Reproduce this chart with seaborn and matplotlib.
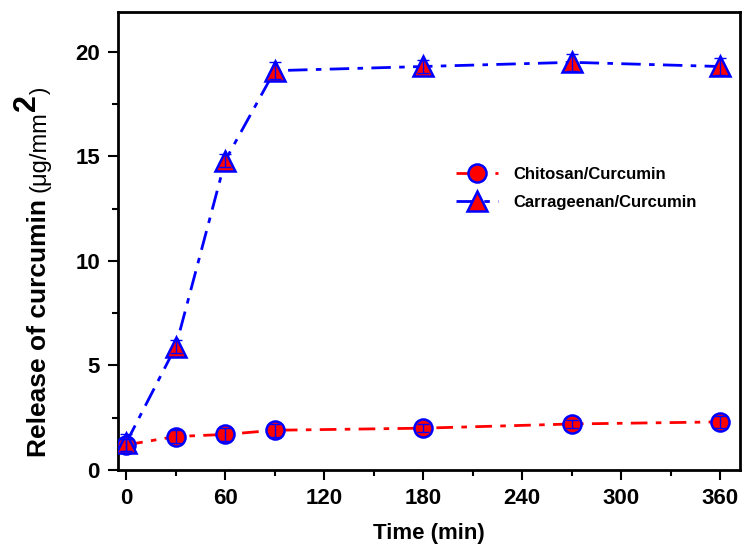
import matplotlib
matplotlib.use("Agg")
import matplotlib.pyplot as plt
import numpy as np
import pandas as pd
import seaborn as sns
from matplotlib.ticker import MultipleLocator

time_min = [0, 30, 60, 90, 180, 270, 360]
chitosan = [1.2, 1.6, 1.7, 1.9, 2.0, 2.2, 2.3]
carrageenan = [1.3, 5.9, 14.8, 19.1, 19.3, 19.5, 19.3]
chitosan_err = [0.3, 0.3, 0.3, 0.3, 0.2, 0.2, 0.3]
carrageenan_err = [0.4, 0.3, 0.3, 0.4, 0.3, 0.4, 0.4]
series_names = ["Chitosan/Curcumin", "Carrageenan/Curcumin"]

sns.set_style("ticks")
plt.rcParams["font.family"] = ["Liberation Sans", "DejaVu Sans"]
for key in ["text.color", "axes.labelcolor", "xtick.color", "ytick.color", "axes.edgecolor"]:
    plt.rcParams[key] = "black"

df = pd.DataFrame({
    "time": time_min * 2,
    "release": chitosan + carrageenan,
    "err": chitosan_err + carrageenan_err,
    "series": [series_names[0]] * len(time_min) + [series_names[1]] * len(time_min),
})

fig = plt.figure(figsize=(7.43, 5.52), dpi=100)
ax = fig.add_axes([0.1588, 0.1486, 0.8372, 0.8294])

styles = {
    series_names[0]: dict(color="red", marker="o", ms=13, dashes=(6, 3, 2, 3)),
    series_names[1]: dict(color="blue", marker="^", ms=14, dashes=(7, 3, 2, 3)),
}
for name in series_names:
    sub = df[df["series"] == name]
    st = styles[name]
    sns.lineplot(data=sub, x="time", y="release", ax=ax, color=st["color"], lw=2,
                 marker=st["marker"], markersize=st["ms"], markerfacecolor="red",
                 markeredgecolor="blue", markeredgewidth=1.8, dashes=st["dashes"],
                 label=name, zorder=3)
    ax.errorbar(sub["time"], sub["release"], yerr=sub["err"], fmt="none",
                ecolor="blue", elinewidth=1, capsize=4, capthick=1, zorder=4)

ax.set_xlim(-5, 372)
ax.set_ylim(0, 21.9)
ax.xaxis.set_major_locator(MultipleLocator(60))
ax.xaxis.set_minor_locator(MultipleLocator(30))
ax.yaxis.set_major_locator(MultipleLocator(5))
ax.yaxis.set_minor_locator(MultipleLocator(2.5))
ax.tick_params(which="major", direction="out", length=7, width=1.5, labelsize=16, pad=6)
ax.tick_params(which="minor", direction="out", length=4, width=1.5)
for lbl in ax.get_xticklabels() + ax.get_yticklabels():
    lbl.set_fontweight("bold")
for sp in ax.spines.values():
    sp.set_linewidth(2)
    sp.set_visible(True)

ax.set_xlabel("Time (min)", fontsize=16, fontweight="bold", labelpad=10)
ax.set_ylabel("")

# y label built from pieces with different sizes (rotated, baseline-anchored)
renderer = fig.canvas.get_renderer()
W, H = fig.bbox.width, fig.bbox.height
base_x, y_px = 46, H - 457
pieces = [
    ("Release of curcumin ", 19, "bold", 0),
    ("(μg/mm", 17, "normal", 0),
    ("2", 22, "bold", -11),
    (")", 16, "normal", 0),
]
for txt, size, weight, shift in pieces:
    t = fig.text((base_x + shift) / W, y_px / H, txt, rotation=90, rotation_mode="anchor",
                 ha="left", va="baseline", fontsize=size, fontweight=weight)
    y_px += t.get_window_extent(renderer).height

leg = ax.legend(loc="upper left", bbox_to_anchor=(0.52, 0.695), frameon=False,
                prop={"size": 12, "weight": "bold"}, handlelength=2.5,
                handletextpad=0.9, labelspacing=0.8)

fig.savefig("out.png", dpi=100)
